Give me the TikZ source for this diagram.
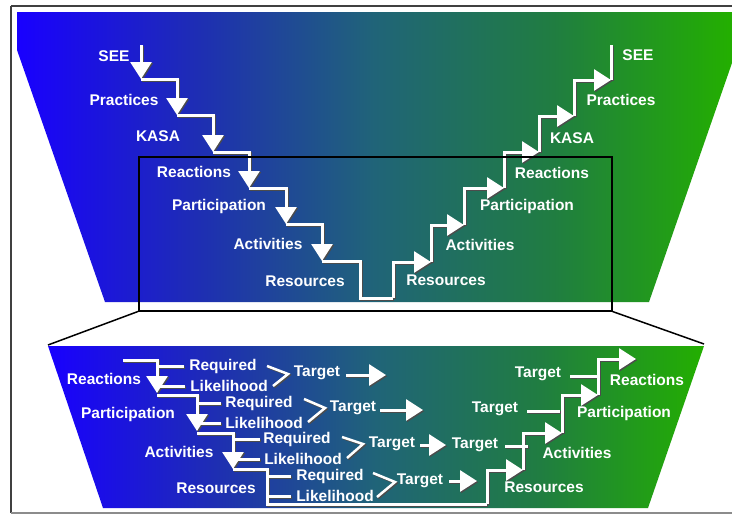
\documentclass[tikz,border=0pt]{standalone}
\usepackage{fontspec}
\setmainfont{Liberation Sans}
\usetikzlibrary{arrows.meta}
\definecolor{fadeA}{RGB}{25,0,255}
\definecolor{fadeB}{RGB}{30,45,180}
\definecolor{fadeC}{RGB}{32,100,120}
\definecolor{fadeD}{RGB}{32,125,65}
\definecolor{fadeE}{RGB}{35,175,0}
\pgfdeclarehorizontalshading{bluegreen}{100bp}{color(0bp)=(fadeA);color(25bp)=(fadeA);color(37.5bp)=(fadeB);color(50bp)=(fadeC);color(62.5bp)=(fadeD);color(75bp)=(fadeE);color(100bp)=(fadeE)}
\tikzset{
  lbl/.style={text=white,font=\bfseries\fontsize{15.5}{18}\selectfont,inner sep=0pt,anchor=center},
  edgeline/.style={draw=black,line width=1.5pt},
  frameline/.style={draw=black!75,line width=2pt},
}
\begin{document}
\begin{tikzpicture}[x=1pt,y=-1pt]
\useasboundingbox (0,0) rectangle (732,514);
\clip (0,0) rectangle (732,514);
\fill[white] (0,0) rectangle (732,514);
\draw[frameline] (11,6) -- (745,6);
\draw[frameline] (11,6) -- (11,513);
\draw[draw=black!45,line width=1.5pt] (11,513) -- (745,513);
% trapezoids
\shade[shading=bluegreen] (17,12) -- (732,12) -- (732,63) -- (649,302) -- (105,302) -- (17,50) -- cycle;
\shade[shading=bluegreen] (48,346) -- (704,346) -- (648,508) -- (103,508) -- cycle;
% upper stair
\coordinate (a0) at (141,45);\coordinate (a1) at (141,79);\coordinate (a2) at (177,115);
\coordinate (a3) at (213,152);\coordinate (a4) at (249,188);\coordinate (a5) at (286,224);
\coordinate (a6) at (322,261);\coordinate (a7) at (360,298);\coordinate (a8) at (393,298);
\coordinate (b1) at (431,262);\coordinate (b2) at (464,225);\coordinate (b3) at (504,188);
\coordinate (b4) at (539,152);\coordinate (b5) at (574,116);\coordinate (b6) at (611,80);\coordinate (b7) at (611,45);
% lower stair
\coordinate (c0) at (123,360);\coordinate (c1) at (157,393);\coordinate (c2) at (197,431);
\coordinate (c3) at (233,469);\coordinate (c4) at (267,504);\coordinate (c5) at (487,504);
\coordinate (d1) at (523,470);\coordinate (d2) at (562,433);\coordinate (d3) at (598,395);\coordinate (d4) at (636,359);
\foreach \col/\s in {black!70/1.2pt,white/0pt}{
\begin{scope}[transform canvas={shift={(\s,-\s)}},
  stairline/.style={draw=\col,line width=3pt},
  stairarrow/.style={draw=\col,line width=3pt,-{Triangle[width=21pt,length=17pt]}}]
  \draw[stairarrow] (a0) -- (a1);
  \draw[stairarrow] (a1) -| (a2);
  \draw[stairarrow] (a2) -| (a3);
  \draw[stairarrow] (a3) -| (a4);
  \draw[stairarrow] (a4) -| (a5);
  \draw[stairarrow] (a5) -| (a6);
  \draw[stairline] (a6) -| (a7) -- (a8);
  \draw[stairarrow] (a8) |- (b1);
  \draw[stairarrow] (b1) |- (b2);
  \draw[stairarrow] (b2) |- (b3);
  \draw[stairarrow] (b3) |- (b4);
  \draw[stairarrow] (b4) |- (b5);
  \draw[stairarrow] (b5) |- (b6);
  \draw[stairline] (b6) -- (b7);
  \draw[stairarrow] (c0) -| (c1);
  \draw[stairarrow] (c1) ++(0,2) -| (c2);
  \draw[stairarrow] (c2) ++(0,2) -| (c3);
  \draw[stairline] (c3) -| (c4) -- (c5);
  \draw[stairarrow] (c5) |- (d1);
  \draw[stairarrow] (d1) |- (d2);
  \draw[stairarrow] (d2) |- (d3);
  \draw[stairarrow] (d3) |- (d4);
  % tees to Required / Likelihood
  \draw[stairline] (157,366) -- (184,366);
  \draw[stairline] (160,386) -- (185,386);
  \draw[stairline] (197,403) -- (221,403);
  \draw[stairline] (200,423) -- (221,423);
  \draw[stairline] (233,439) -- (260,439);
  \draw[stairline] (236,459) -- (260,459);
  \draw[stairline] (267,476) -- (291,476);
  \draw[stairline] (267,496) -- (291,496);
  % chevrons
  \draw[draw=\col,line width=2.5pt] (267,366) -- (288,374) -- (273,386);
  \draw[draw=\col,line width=2.5pt] (304,399) -- (325,408) -- (308,422);
  \draw[draw=\col,line width=2.5pt] (342,437) -- (363,444) -- (347,458);
  \draw[draw=\col,line width=2.5pt] (373,473) -- (395,482) -- (377,497);
  % target arrows
  \draw[stairarrow] (346,375) -- (386,375);
  \draw[stairarrow] (380,410) -- (423,410);
  \draw[stairarrow] (420,445) -- (446,445);
  \draw[stairarrow] (449,481) -- (477,481);
  % tees from Target
  \draw[stairline] (570,376) -- (600,376);
  \draw[stairline] (527,411) -- (560,411);
  \draw[stairline] (505,446) -- (528,446);
\end{scope}
}
% zoom box and its lines
\node[edgeline,inner sep=0pt,minimum width=473pt,minimum height=154pt,anchor=north west] (box) at (138,156) {};
\coordinate (tl) at (48,345);\coordinate (tr) at (704,344);
\draw[edgeline] (box.south west) -- (tl);
\draw[edgeline] (box.south east) -- (tr);
% labels, upper part
\node[lbl] (s1) at (114,56) {SEE};
\node[lbl] (s2) at (124,100) {Practices};
\node[lbl] (s3) at (158,136) {KASA};
\node[lbl] (s4) at (194,172) {Reactions};
\node[lbl] (s5) at (219,206) {Participation};
\node[lbl] (s6) at (268,244) {Activities};
\node[lbl] (s7) at (305,281) {Resources};
\node[lbl] (r1) at (638,55) {SEE};
\node[lbl] (r2) at (621,100) {Practices};
\node[lbl] (r3) at (572,138) {KASA};
\node[lbl] (r4) at (552,173) {Reactions};
\node[lbl] (r5) at (527,206) {Participation};
\node[lbl] (r6) at (480,245) {Activities};
\node[lbl] (r7) at (446,280) {Resources};
% labels, lower part
\node[lbl] (l1) at (104,379) {Reactions};
\node[lbl] (l2) at (128,414) {Participation};
\node[lbl] (l3) at (179,452) {Activities};
\node[lbl] (l4) at (216,488) {Resources};
\node[lbl] (q1) at (223,366) {Required};
\node[lbl] (h1) at (229,386) {Likelihood};
\node[lbl] (t1) at (317,373) {Target};
\node[lbl] (q2) at (259,403) {Required};
\node[lbl] (h2) at (264,423) {Likelihood};
\node[lbl] (t2) at (353,408) {Target};
\node[lbl] (q3) at (297,439) {Required};
\node[lbl] (h3) at (303,459) {Likelihood};
\node[lbl] (t3) at (392,444) {Target};
\node[lbl] (q4) at (330,476) {Required};
\node[lbl] (h4) at (335,496) {Likelihood};
\node[lbl] (t4) at (420,481) {Target};
\node[lbl] (u1) at (538,374) {Target};
\node[lbl] (u2) at (495,409) {Target};
\node[lbl] (u3) at (475,445) {Target};
\node[lbl] (m1) at (647,380) {Reactions};
\node[lbl] (m2) at (624,413) {Participation};
\node[lbl] (m3) at (577,453) {Activities};
\node[lbl] (m4) at (544,487) {Resources};
\end{tikzpicture}
\end{document}
